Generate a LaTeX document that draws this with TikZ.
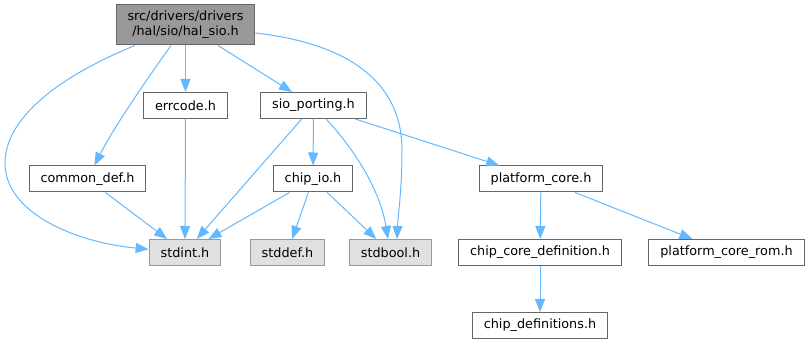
\documentclass[tikz,border=0pt]{standalone}
\usepackage{fontspec}
\setmainfont{DejaVu Sans}
\usetikzlibrary{arrows.meta}
\definecolor{edgeblue}{HTML}{63B8FF}
\definecolor{boxline}{HTML}{666666}
\definecolor{sysline}{HTML}{999999}
\definecolor{sysfill}{HTML}{E0E0E0}
\definecolor{rootfill}{HTML}{999999}

\begin{document}
\begin{tikzpicture}[
    x=1pt, y=-1pt,
    hdr/.style={rectangle, draw=boxline, fill=white, line width=1pt, minimum height=26pt, inner xsep=11.5pt, font=\fontsize{12.8}{15}\selectfont},
    sys/.style={hdr, draw=sysline, fill=sysfill},
    dep/.style={->, draw=edgeblue, line width=1pt},
    >={Triangle[length=13pt,width=10pt]}
]
    \useasboundingbox (0,0) rectangle (812,344);

    \node[hdr, fill=rootfill, minimum height=40pt, align=center] (halsio) at (185.5,25) {src/drivers/drivers\\/hal/sio/hal\_sio.h};
    \node[hdr] (errcode) at (185.5,105.5) {errcode.h};
    \node[hdr] (sioport) at (313.5,105.5) {sio\_porting.h};
    \node[hdr] (commondef) at (87.5,179) {common\_def.h};
    \node[hdr] (chipio) at (313,179) {chip\_io.h};
    \node[hdr] (platcore) at (541,179) {platform\_core.h};
    \node[sys] (stdint) at (185,252.5) {stdint.h};
    \node[sys] (stddef) at (287.5,252.5) {stddef.h};
    \node[sys] (stdbool) at (390.5,252.5) {stdbool.h};
    \node[hdr] (chipcore) at (540,252.5) {chip\_core\_definition.h};
    \node[hdr] (platrom) at (726.5,252.5) {platform\_core\_rom.h};
    \node[hdr] (chipdefs) at (540,325.5) {chip\_definitions.h};

    \draw[dep] (halsio) -- (errcode);
    \draw[dep] (halsio) -- (sioport);
    \draw[dep] (halsio) .. controls (150,75) and (115,125) .. (commondef);
    \draw[dep] (halsio) .. controls (55,78) and (5,120) .. (5,163)
        .. controls (5,215) and (80,243) .. (stdint);
    \draw[dep] (halsio) .. controls (360,45) and (402,90) .. (402,150)
        .. controls (402,190) and (398,215) .. ([xshift=6.5pt]stdbool.north);
    \draw[dep] (sioport) -- (stdint);
    \draw[dep] (sioport) -- (chipio);
    \draw[dep] (sioport) .. controls (355,150) and (380,190) .. ([xshift=-2.5pt]stdbool.north);
    \draw[dep] (sioport) -- (platcore);
    \draw[dep] (commondef) -- (stdint);
    \draw[dep] (errcode) -- (stdint);
    \draw[dep] (chipio) -- (stdint);
    \draw[dep] (chipio) -- (stddef);
    \draw[dep] (chipio) -- (stdbool);
    \draw[dep] (platcore) -- (chipcore);
    \draw[dep] (platcore) -- (platrom);
    \draw[dep] (chipcore) -- (chipdefs);
\end{tikzpicture}
\end{document}
